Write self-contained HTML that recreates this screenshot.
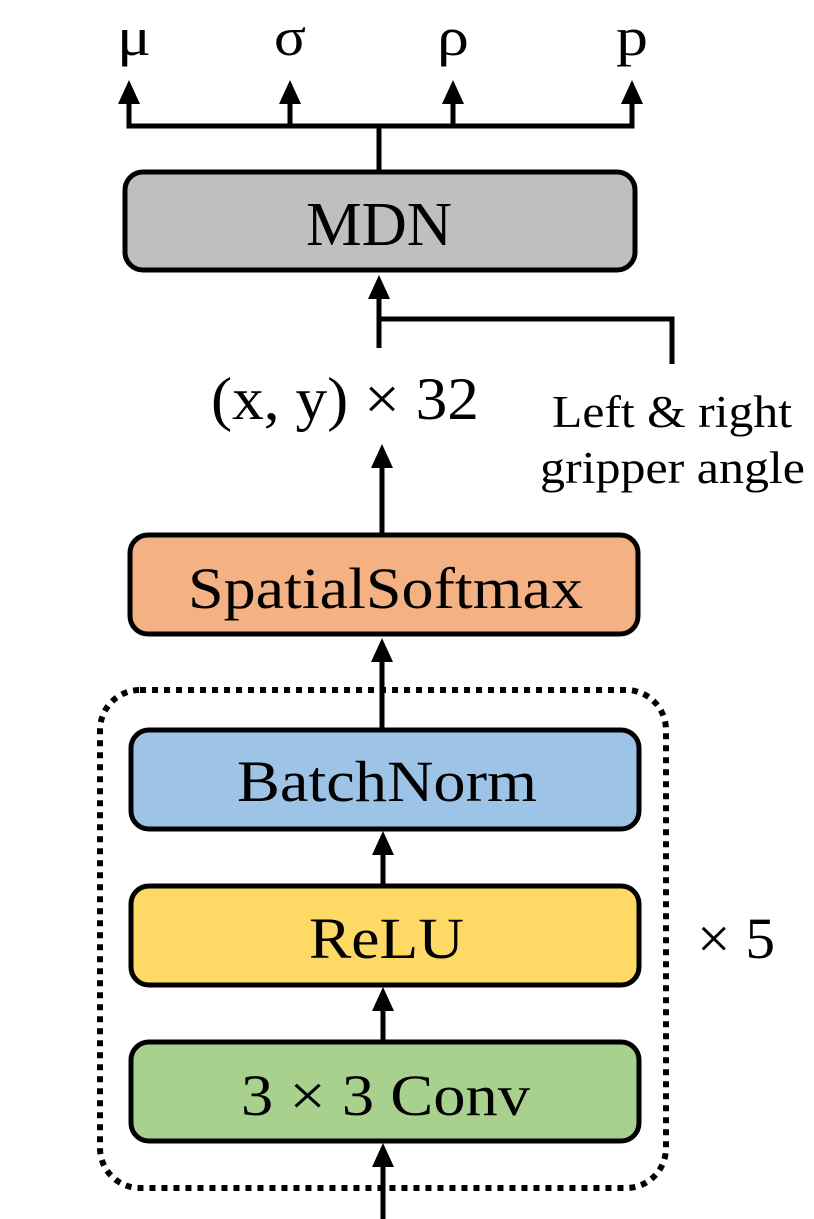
<!DOCTYPE html>
<html><head><meta charset="utf-8"><style>html,body{margin:0;padding:0;background:#fff}svg{display:block}text{font-family:"Liberation Serif","Times New Roman",serif}</style></head>
<body>
<svg width="814" height="1219" viewBox="0 0 814 1219" xmlns="http://www.w3.org/2000/svg" fill="#000">
<g stroke="#000" stroke-width="5" fill="none">
<polyline points="129,104 129,126 632,126 632,104"/>
<line x1="290" y1="104" x2="290" y2="126"/>
<line x1="453" y1="104" x2="453" y2="126"/>
<line x1="379" y1="126" x2="379" y2="170"/>
<line x1="379" y1="298" x2="379" y2="348"/>
<polyline points="379,319 672,319 672,364"/>
<line x1="382" y1="466" x2="382" y2="533"/>
<line x1="382" y1="660" x2="382" y2="728"/>
<line x1="383" y1="852" x2="383" y2="884"/>
<line x1="383" y1="1008" x2="383" y2="1040"/>
<line x1="383" y1="1164" x2="383" y2="1219"/>
</g>
<g>
<polygon points="129,80 118,104 140,104"/>
<polygon points="290,80 279,104 301,104"/>
<polygon points="453,80 442,104 464,104"/>
<polygon points="632,80 621,104 643,104"/>
<polygon points="379,275 368,299 390,299"/>
<polygon points="382,444 371,468 393,468"/>
<polygon points="382,638 371,662 393,662"/>
<polygon points="383,831 372,855 394,855"/>
<polygon points="383,987 372,1011 394,1011"/>
<polygon points="383,1143 372,1167 394,1167"/>
</g>
<rect x="100" y="690" width="566" height="498" rx="40" fill="none" stroke="#000" stroke-width="6" stroke-dasharray="6 6"/>
<g stroke="#000" stroke-width="5">
<rect x="125" y="172" width="510" height="98" rx="18" fill="#BFBFBF"/>
<rect x="130" y="535" width="508" height="99" rx="18" fill="#F4B183"/>
<rect x="131" y="730" width="508" height="99" rx="18" fill="#9DC3E6"/>
<rect x="131" y="886" width="508" height="99" rx="18" fill="#FFD966"/>
<rect x="131" y="1042" width="508" height="99" rx="18" fill="#A9D18E"/>
</g>
<g font-size="58">
<text x="117" y="55" font-size="54" textLength="34" lengthAdjust="spacingAndGlyphs">μ</text>
<text x="274" y="55" font-size="54" textLength="32" lengthAdjust="spacingAndGlyphs">σ</text>
<text x="437" y="55" font-size="54" textLength="32" lengthAdjust="spacingAndGlyphs">ρ</text>
<text x="616" y="55" font-size="54" textLength="32" lengthAdjust="spacingAndGlyphs">p</text>
<text x="306" y="245" font-size="62" textLength="146" lengthAdjust="spacingAndGlyphs">MDN</text>
<text x="211" y="419" font-size="60" textLength="268" lengthAdjust="spacingAndGlyphs">(x, y) × 32</text>
<text x="188" y="608" textLength="395" lengthAdjust="spacingAndGlyphs">SpatialSoftmax</text>
<text x="237" y="801" textLength="300" lengthAdjust="spacingAndGlyphs">BatchNorm</text>
<text x="309" y="958" textLength="155" lengthAdjust="spacingAndGlyphs">ReLU</text>
<text x="241" y="1115" textLength="289" lengthAdjust="spacingAndGlyphs">3 × 3 Conv</text>
<text x="697" y="958" textLength="78" lengthAdjust="spacingAndGlyphs">× 5</text>
</g>
<g font-size="45">
<text x="552" y="427" textLength="240" lengthAdjust="spacingAndGlyphs">Left &amp; right</text>
<text x="540" y="483" textLength="265" lengthAdjust="spacingAndGlyphs">gripper angle</text>
</g>
</svg>
</body></html>
